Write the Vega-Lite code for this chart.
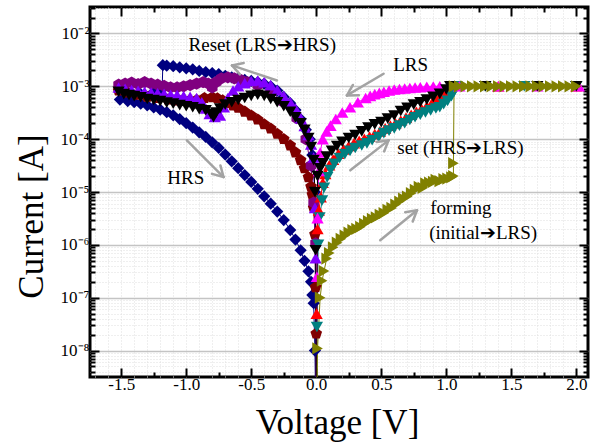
{
"$schema": "https://vega.github.io/schema/vega-lite/v6.json",
"width": 498, "height": 370,
"autosize": {"type": "none"},
"padding": {"left": 90, "top": 7, "right": 8, "bottom": 65},
"background": "white",
"config": {
  "view": {"stroke": "black", "strokeWidth": 3},
  "axis": {"labelFont": "Liberation Serif", "titleFont": "Liberation Serif", "labelColor": "black", "titleColor": "black", "titleFontWeight": "normal", "domain": false, "tickColor": "black", "tickWidth": 2, "labelOverlap": false, "labelBound": false, "labelFlush": false}
},
"datasets": {
"curves": [
{"s":"nv","v":0,"i":1e-10},{"s":"nv","v":-0.01,"i":1e-5},{"s":"nv","v":-0.03,"i":5e-5},{"s":"nv","v":-0.05,"i":1e-4},{"s":"nv","v":-0.08,"i":1.5e-4},{"s":"nv","v":-0.12,"i":2.4e-4},{"s":"nv","v":-0.16,"i":3.55e-4},{"s":"nv","v":-0.2,"i":4.8e-4},{"s":"nv","v":-0.25,"i":6.3e-4},{"s":"nv","v":-0.3,"i":8.3e-4},{"s":"nv","v":-0.35,"i":1e-3},{"s":"nv","v":-0.4,"i":1.12e-3},{"s":"nv","v":-0.45,"i":1.2e-3},{"s":"nv","v":-0.5,"i":1.26e-3},{"s":"nv","v":-0.55,"i":1.32e-3},{"s":"nv","v":-0.6,"i":1.41e-3},{"s":"nv","v":-0.65,"i":1.48e-3},{"s":"nv","v":-0.7,"i":1.58e-3},{"s":"nv","v":-0.75,"i":1.7e-3},{"s":"nv","v":-0.8,"i":1.78e-3},{"s":"nv","v":-0.85,"i":1.86e-3},{"s":"nv","v":-0.9,"i":1.95e-3},{"s":"nv","v":-0.95,"i":2.09e-3},{"s":"nv","v":-1.0,"i":2.19e-3},{"s":"nv","v":-1.05,"i":2.29e-3},{"s":"nv","v":-1.1,"i":2.4e-3},{"s":"nv","v":-1.15,"i":2.45e-3},{"s":"nv","v":-1.18,"i":2.51e-3},{"s":"nv","v":-1.185,"i":8.9e-4},{"s":"nv","v":-1.25,"i":7.9e-4},{"s":"nv","v":-1.35,"i":7.1e-4},{"s":"nv","v":-1.45,"i":6.3e-4},{"s":"nv","v":-1.51,"i":5.6e-4},
{"s":"nv","v":-1.45,"i":5.25e-4},{"s":"nv","v":-1.4,"i":5.0e-4},{"s":"nv","v":-1.35,"i":4.68e-4},{"s":"nv","v":-1.3,"i":4.37e-4},{"s":"nv","v":-1.25,"i":3.98e-4},{"s":"nv","v":-1.2,"i":3.63e-4},{"s":"nv","v":-1.15,"i":3.24e-4},{"s":"nv","v":-1.1,"i":2.82e-4},{"s":"nv","v":-1.05,"i":2.4e-4},{"s":"nv","v":-1.0,"i":2.0e-4},{"s":"nv","v":-0.95,"i":1.66e-4},{"s":"nv","v":-0.9,"i":1.35e-4},{"s":"nv","v":-0.85,"i":1.1e-4},{"s":"nv","v":-0.8,"i":8.7e-5},{"s":"nv","v":-0.75,"i":6.8e-5},{"s":"nv","v":-0.7,"i":5.1e-5},{"s":"nv","v":-0.65,"i":3.8e-5},{"s":"nv","v":-0.6,"i":2.82e-5},{"s":"nv","v":-0.55,"i":2.09e-5},{"s":"nv","v":-0.5,"i":1.55e-5},{"s":"nv","v":-0.45,"i":1.15e-5},{"s":"nv","v":-0.4,"i":8.3e-6},{"s":"nv","v":-0.35,"i":6.0e-6},{"s":"nv","v":-0.3,"i":4.27e-6},{"s":"nv","v":-0.25,"i":2.95e-6},{"s":"nv","v":-0.2,"i":1.91e-6},{"s":"nv","v":-0.16,"i":1.26e-6},{"s":"nv","v":-0.12,"i":7.9e-7},{"s":"nv","v":-0.09,"i":5.0e-7},{"s":"nv","v":-0.06,"i":3.16e-7},{"s":"nv","v":-0.04,"i":2.0e-7},{"s":"nv","v":-0.03,"i":1.12e-7},{"s":"nv","v":-0.02,"i":7.9e-8},{"s":"nv","v":-0.01,"i":1.0e-8},{"s":"nv","v":0.0,"i":1e-10},
{"s":"dr","v":-1.52,"i":8.3e-4},{"s":"dr","v":-1.45,"i":7.6e-4},{"s":"dr","v":-1.38,"i":6.9e-4},{"s":"dr","v":-1.3,"i":6.3e-4},{"s":"dr","v":-1.22,"i":6.0e-4},{"s":"dr","v":-1.14,"i":5.6e-4},{"s":"dr","v":-1.06,"i":5.4e-4},{"s":"dr","v":-0.98,"i":5.25e-4},{"s":"dr","v":-0.92,"i":5.5e-4},{"s":"dr","v":-0.86,"i":6.0e-4},{"s":"dr","v":-0.8,"i":6.2e-4},{"s":"dr","v":-0.76,"i":5.9e-4},{"s":"dr","v":-0.72,"i":5.4e-4},{"s":"dr","v":-0.68,"i":4.8e-4},{"s":"dr","v":-0.64,"i":4.3e-4},{"s":"dr","v":-0.6,"i":3.9e-4},{"s":"dr","v":-0.55,"i":3.3e-4},{"s":"dr","v":-0.5,"i":2.8e-4},{"s":"dr","v":-0.45,"i":2.34e-4},{"s":"dr","v":-0.4,"i":1.9e-4},{"s":"dr","v":-0.35,"i":1.58e-4},{"s":"dr","v":-0.3,"i":1.26e-4},{"s":"dr","v":-0.25,"i":1.0e-4},{"s":"dr","v":-0.2,"i":7.6e-5},{"s":"dr","v":-0.16,"i":5.6e-5},{"s":"dr","v":-0.12,"i":4.0e-5},{"s":"dr","v":-0.09,"i":2.8e-5},{"s":"dr","v":-0.06,"i":1.9e-5},{"s":"dr","v":-0.04,"i":1.26e-5},{"s":"dr","v":-0.03,"i":8.9e-6},{"s":"dr","v":-0.02,"i":5.0e-6},{"s":"dr","v":-0.01,"i":1.58e-6},{"s":"dr","v":-0.005,"i":1.58e-7},{"s":"dr","v":0.0,"i":2.1e-8},{"s":"dr","v":0.001,"i":1e-10},
{"s":"dm","v":-1.52,"i":1.07e-3},{"s":"dm","v":-1.47,"i":1.12e-3},{"s":"dm","v":-1.42,"i":1.17e-3},{"s":"dm","v":-1.37,"i":1.1e-3},{"s":"dm","v":-1.32,"i":1.2e-3},{"s":"dm","v":-1.27,"i":1.12e-3},{"s":"dm","v":-1.22,"i":1.07e-3},{"s":"dm","v":-1.17,"i":1.02e-3},{"s":"dm","v":-1.12,"i":9.5e-4},{"s":"dm","v":-1.07,"i":9.5e-4},{"s":"dm","v":-1.02,"i":1.0e-3},{"s":"dm","v":-0.97,"i":1.05e-3},{"s":"dm","v":-0.92,"i":1.12e-3},{"s":"dm","v":-0.87,"i":1.2e-3},{"s":"dm","v":-0.83,"i":1.12e-3},{"s":"dm","v":-0.8,"i":9.5e-4},{"s":"dm","v":-0.77,"i":1.2e-3},{"s":"dm","v":-0.73,"i":1.41e-3},{"s":"dm","v":-0.68,"i":1.48e-3},{"s":"dm","v":-0.63,"i":1.41e-3},{"s":"dm","v":-0.58,"i":1.32e-3},{"s":"dm","v":-0.53,"i":1.2e-3},{"s":"dm","v":-0.45,"i":1.05e-3},{"s":"dm","v":-0.35,"i":7.9e-4},{"s":"dm","v":-0.25,"i":5.0e-4},{"s":"dm","v":-0.15,"i":2.5e-4},{"s":"dm","v":-0.08,"i":1.0e-4},{"s":"dm","v":-0.04,"i":3.16e-5},{"s":"dm","v":-0.02,"i":6.3e-6},{"s":"dm","v":-0.005,"i":1.07e-6},{"s":"dm","v":0.0,"i":1e-10},
{"s":"vi","v":-1.52,"i":9.5e-4},{"s":"vi","v":-1.47,"i":9.0e-4},{"s":"vi","v":-1.42,"i":8.5e-4},{"s":"vi","v":-1.37,"i":8.2e-4},{"s":"vi","v":-1.32,"i":7.9e-4},{"s":"vi","v":-1.27,"i":7.6e-4},{"s":"vi","v":-1.22,"i":7.4e-4},{"s":"vi","v":-1.17,"i":7.2e-4},{"s":"vi","v":-1.12,"i":6.9e-4},{"s":"vi","v":-1.07,"i":6.8e-4},{"s":"vi","v":-1.02,"i":6.5e-4},{"s":"vi","v":-0.97,"i":6.3e-4},{"s":"vi","v":-0.92,"i":6.0e-4},{"s":"vi","v":-0.88,"i":5.0e-4},{"s":"vi","v":-0.85,"i":3.8e-4},{"s":"vi","v":-0.82,"i":3.0e-4},{"s":"vi","v":-0.78,"i":2.63e-4},{"s":"vi","v":-0.74,"i":2.82e-4},{"s":"vi","v":-0.71,"i":4.0e-4},{"s":"vi","v":-0.68,"i":6.0e-4},{"s":"vi","v":-0.64,"i":8.3e-4},{"s":"vi","v":-0.6,"i":1.0e-3},{"s":"vi","v":-0.55,"i":1.15e-3},{"s":"vi","v":-0.5,"i":1.26e-3},{"s":"vi","v":-0.45,"i":1.29e-3},{"s":"vi","v":-0.4,"i":1.2e-3},{"s":"vi","v":-0.35,"i":1.05e-3},{"s":"vi","v":-0.3,"i":8.5e-4},{"s":"vi","v":-0.25,"i":6.6e-4},{"s":"vi","v":-0.2,"i":5.0e-4},{"s":"vi","v":-0.16,"i":3.8e-4},{"s":"vi","v":-0.12,"i":2.5e-4},{"s":"vi","v":-0.09,"i":1.78e-4},{"s":"vi","v":-0.06,"i":1.2e-4},{"s":"vi","v":-0.04,"i":7.9e-5},{"s":"vi","v":-0.02,"i":4.5e-5},{"s":"vi","v":-0.01,"i":5.0e-6},{"s":"vi","v":-0.005,"i":5.6e-7},{"s":"vi","v":0.0,"i":1e-10},
{"s":"rd","v":0.0,"i":1e-10},{"s":"rd","v":0.003,"i":5e-8},{"s":"rd","v":0.01,"i":2.0e-6},{"s":"rd","v":0.02,"i":4.5e-6},{"s":"rd","v":0.035,"i":8e-6},{"s":"rd","v":0.05,"i":1.5e-5},{"s":"rd","v":0.07,"i":2.2e-5},{"s":"rd","v":0.1,"i":3.2e-5},{"s":"rd","v":0.13,"i":4.1e-5},{"s":"rd","v":0.17,"i":5.3e-5},{"s":"rd","v":0.21,"i":6.4e-5},{"s":"rd","v":0.25,"i":7.4e-5},{"s":"rd","v":0.29,"i":8.4e-5},{"s":"rd","v":0.33,"i":9.3e-5},{"s":"rd","v":0.37,"i":1.02e-4},{"s":"rd","v":0.41,"i":1.12e-4},{"s":"rd","v":0.45,"i":1.25e-4},{"s":"rd","v":0.49,"i":1.4e-4},{"s":"rd","v":0.53,"i":1.6e-4},{"s":"rd","v":0.57,"i":1.8e-4},{"s":"rd","v":0.61,"i":2.0e-4},{"s":"rd","v":0.65,"i":2.25e-4},{"s":"rd","v":0.69,"i":2.55e-4},{"s":"rd","v":0.73,"i":2.9e-4},{"s":"rd","v":0.77,"i":3.3e-4},{"s":"rd","v":0.81,"i":3.75e-4},{"s":"rd","v":0.85,"i":4.2e-4},{"s":"rd","v":0.89,"i":4.8e-4},{"s":"rd","v":0.93,"i":5.5e-4},{"s":"rd","v":0.96,"i":6.3e-4},{"s":"rd","v":0.99,"i":7.4e-4},{"s":"rd","v":1.02,"i":8.8e-4},{"s":"rd","v":1.04,"i":1e-3},{"s":"rd","v":1.4,"i":1e-3},{"s":"rd","v":2.0,"i":1e-3},
{"s":"tl","v":0.0,"i":1e-10},{"s":"tl","v":0.005,"i":2.8e-8},{"s":"tl","v":0.015,"i":1.0e-6},{"s":"tl","v":0.025,"i":3.3e-6},{"s":"tl","v":0.045,"i":6.9e-6},{"s":"tl","v":0.06,"i":1.2e-5},{"s":"tl","v":0.085,"i":1.9e-5},{"s":"tl","v":0.11,"i":2.6e-5},{"s":"tl","v":0.14,"i":3.4e-5},{"s":"tl","v":0.18,"i":4.4e-5},{"s":"tl","v":0.22,"i":5.2e-5},{"s":"tl","v":0.26,"i":6.0e-5},{"s":"tl","v":0.3,"i":6.8e-5},{"s":"tl","v":0.35,"i":7.6e-5},{"s":"tl","v":0.39,"i":8.3e-5},{"s":"tl","v":0.43,"i":9.5e-5},{"s":"tl","v":0.48,"i":1.1e-4},{"s":"tl","v":0.52,"i":1.3e-4},{"s":"tl","v":0.56,"i":1.45e-4},{"s":"tl","v":0.6,"i":1.6e-4},{"s":"tl","v":0.64,"i":1.8e-4},{"s":"tl","v":0.68,"i":2.0e-4},{"s":"tl","v":0.72,"i":2.3e-4},{"s":"tl","v":0.76,"i":2.6e-4},{"s":"tl","v":0.8,"i":2.9e-4},{"s":"tl","v":0.84,"i":3.2e-4},{"s":"tl","v":0.88,"i":3.5e-4},{"s":"tl","v":0.92,"i":3.8e-4},{"s":"tl","v":0.95,"i":4.0e-4},{"s":"tl","v":0.98,"i":4.6e-4},{"s":"tl","v":1.01,"i":5.3e-4},{"s":"tl","v":1.04,"i":6.5e-4},{"s":"tl","v":1.06,"i":8e-4},{"s":"tl","v":1.08,"i":1e-3},{"s":"tl","v":1.3,"i":1e-3},{"s":"tl","v":1.6,"i":1e-3},{"s":"tl","v":2.0,"i":1e-3},
{"s":"mg","v":0.0,"i":1e-10},{"s":"mg","v":0.005,"i":2.5e-7},{"s":"mg","v":0.01,"i":3.2e-6},{"s":"mg","v":0.02,"i":2.5e-5},{"s":"mg","v":0.03,"i":5.6e-5},{"s":"mg","v":0.05,"i":1.0e-4},{"s":"mg","v":0.08,"i":1.4e-4},{"s":"mg","v":0.11,"i":1.8e-4},{"s":"mg","v":0.15,"i":2.4e-4},{"s":"mg","v":0.2,"i":3.2e-4},{"s":"mg","v":0.26,"i":4.0e-4},{"s":"mg","v":0.32,"i":5.0e-4},{"s":"mg","v":0.38,"i":6.0e-4},{"s":"mg","v":0.415,"i":6.6e-4},{"s":"mg","v":0.45,"i":7.1e-4},{"s":"mg","v":0.485,"i":7.5e-4},{"s":"mg","v":0.52,"i":7.9e-4},{"s":"mg","v":0.56,"i":8.3e-4},{"s":"mg","v":0.6,"i":8.7e-4},{"s":"mg","v":0.64,"i":8.9e-4},{"s":"mg","v":0.68,"i":9.1e-4},{"s":"mg","v":0.72,"i":9.3e-4},{"s":"mg","v":0.76,"i":9.5e-4},{"s":"mg","v":0.8,"i":9.6e-4},{"s":"mg","v":0.85,"i":9.8e-4},{"s":"mg","v":0.9,"i":9.9e-4},{"s":"mg","v":0.95,"i":1e-3},{"s":"mg","v":1.1,"i":1e-3},{"s":"mg","v":1.4,"i":1e-3},{"s":"mg","v":1.7,"i":1e-3},{"s":"mg","v":2.02,"i":1e-3},
{"s":"bk","v":-1.52,"i":7.9e-4},{"s":"bk","v":-1.48,"i":7.1e-4},{"s":"bk","v":-1.44,"i":6.8e-4},{"s":"bk","v":-1.4,"i":6.5e-4},{"s":"bk","v":-1.35,"i":6.2e-4},{"s":"bk","v":-1.3,"i":5.75e-4},{"s":"bk","v":-1.25,"i":5.5e-4},{"s":"bk","v":-1.2,"i":5.25e-4},{"s":"bk","v":-1.15,"i":4.9e-4},{"s":"bk","v":-1.1,"i":4.7e-4},{"s":"bk","v":-1.05,"i":4.4e-4},{"s":"bk","v":-1.0,"i":4.2e-4},{"s":"bk","v":-0.95,"i":4.0e-4},{"s":"bk","v":-0.9,"i":3.7e-4},{"s":"bk","v":-0.85,"i":3.5e-4},{"s":"bk","v":-0.81,"i":3.0e-4},{"s":"bk","v":-0.79,"i":2.6e-4},{"s":"bk","v":-0.77,"i":3.2e-4},{"s":"bk","v":-0.74,"i":3.8e-4},{"s":"bk","v":-0.7,"i":4.5e-4},{"s":"bk","v":-0.65,"i":5.0e-4},{"s":"bk","v":-0.6,"i":5.5e-4},{"s":"bk","v":-0.55,"i":6.0e-4},{"s":"bk","v":-0.5,"i":6.6e-4},{"s":"bk","v":-0.45,"i":6.9e-4},{"s":"bk","v":-0.4,"i":6.6e-4},{"s":"bk","v":-0.35,"i":5.75e-4},{"s":"bk","v":-0.3,"i":5.0e-4},{"s":"bk","v":-0.25,"i":4.2e-4},{"s":"bk","v":-0.2,"i":3.3e-4},{"s":"bk","v":-0.16,"i":2.6e-4},{"s":"bk","v":-0.12,"i":2.0e-4},{"s":"bk","v":-0.09,"i":1.5e-4},{"s":"bk","v":-0.06,"i":1.05e-4},{"s":"bk","v":-0.04,"i":7.1e-5},{"s":"bk","v":-0.02,"i":4.0e-5},{"s":"bk","v":-0.01,"i":1.0e-5},{"s":"bk","v":-0.005,"i":7.9e-7},{"s":"bk","v":0.0,"i":1e-10},{"s":"bk","v":0.01,"i":2.0e-5},{"s":"bk","v":0.03,"i":2.8e-5},{"s":"bk","v":0.05,"i":3.5e-5},{"s":"bk","v":0.08,"i":4.7e-5},{"s":"bk","v":0.12,"i":6.0e-5},{"s":"bk","v":0.16,"i":7.4e-5},{"s":"bk","v":0.2,"i":8.9e-5},{"s":"bk","v":0.25,"i":1.05e-4},{"s":"bk","v":0.3,"i":1.2e-4},{"s":"bk","v":0.35,"i":1.4e-4},{"s":"bk","v":0.4,"i":1.66e-4},{"s":"bk","v":0.45,"i":1.9e-4},{"s":"bk","v":0.5,"i":2.1e-4},{"s":"bk","v":0.55,"i":2.45e-4},{"s":"bk","v":0.6,"i":2.8e-4},{"s":"bk","v":0.65,"i":3.4e-4},{"s":"bk","v":0.7,"i":3.9e-4},{"s":"bk","v":0.75,"i":4.5e-4},{"s":"bk","v":0.8,"i":5.0e-4},{"s":"bk","v":0.85,"i":5.6e-4},{"s":"bk","v":0.9,"i":6.3e-4},{"s":"bk","v":0.95,"i":7.2e-4},{"s":"bk","v":1.0,"i":8.7e-4},{"s":"bk","v":1.03,"i":1e-3},{"s":"bk","v":1.3,"i":1e-3},{"s":"bk","v":1.7,"i":1e-3},{"s":"bk","v":2.0,"i":1e-3},
{"s":"ol","v":0.0,"i":1e-10},{"s":"ol","v":0.01,"i":1.1e-8},{"s":"ol","v":0.03,"i":1.0e-7},{"s":"ol","v":0.045,"i":2.1e-7},{"s":"ol","v":0.06,"i":3.2e-7},{"s":"ol","v":0.08,"i":5.5e-7},{"s":"ol","v":0.1,"i":7.0e-7},{"s":"ol","v":0.13,"i":9.0e-7},{"s":"ol","v":0.16,"i":1.1e-6},{"s":"ol","v":0.19,"i":1.3e-6},{"s":"ol","v":0.22,"i":1.5e-6},{"s":"ol","v":0.25,"i":1.7e-6},{"s":"ol","v":0.28,"i":1.9e-6},{"s":"ol","v":0.31,"i":2.0e-6},{"s":"ol","v":0.34,"i":2.2e-6},{"s":"ol","v":0.37,"i":2.5e-6},{"s":"ol","v":0.4,"i":2.8e-6},{"s":"ol","v":0.43,"i":3.1e-6},{"s":"ol","v":0.46,"i":3.3e-6},{"s":"ol","v":0.49,"i":3.7e-6},{"s":"ol","v":0.52,"i":4.0e-6},{"s":"ol","v":0.55,"i":4.6e-6},{"s":"ol","v":0.58,"i":5.0e-6},{"s":"ol","v":0.61,"i":5.8e-6},{"s":"ol","v":0.64,"i":6.6e-6},{"s":"ol","v":0.67,"i":7.5e-6},{"s":"ol","v":0.7,"i":8.2e-6},{"s":"ol","v":0.73,"i":9.5e-6},{"s":"ol","v":0.76,"i":1.1e-5},{"s":"ol","v":0.79,"i":1.25e-5},{"s":"ol","v":0.82,"i":1.2e-5},{"s":"ol","v":0.84,"i":1.45e-5},{"s":"ol","v":0.87,"i":1.5e-5},{"s":"ol","v":0.9,"i":1.55e-5},{"s":"ol","v":0.92,"i":1.7e-5},{"s":"ol","v":0.95,"i":1.6e-5},{"s":"ol","v":0.98,"i":1.75e-5},{"s":"ol","v":1.01,"i":1.8e-5},{"s":"ol","v":1.04,"i":1.9e-5},{"s":"ol","v":1.055,"i":2.0e-5},{"s":"ol","v":1.055,"i":3.5e-5},{"s":"ol","v":1.06,"i":1e-3},{"s":"ol","v":1.1,"i":1e-3},{"s":"ol","v":1.15,"i":1e-3},{"s":"ol","v":1.2,"i":1e-3},{"s":"ol","v":1.25,"i":1e-3},{"s":"ol","v":1.3,"i":1e-3},{"s":"ol","v":1.35,"i":1e-3},{"s":"ol","v":1.4,"i":1e-3},{"s":"ol","v":1.45,"i":1e-3},{"s":"ol","v":1.5,"i":1e-3},{"s":"ol","v":1.55,"i":1e-3},{"s":"ol","v":1.6,"i":1e-3},{"s":"ol","v":1.65,"i":1e-3},{"s":"ol","v":1.7,"i":1e-3},{"s":"ol","v":1.75,"i":1e-3},{"s":"ol","v":1.8,"i":1e-3},{"s":"ol","v":1.85,"i":1e-3},{"s":"ol","v":1.9,"i":1e-3},{"s":"ol","v":1.95,"i":1e-3},{"s":"ol","v":2.0,"i":1e-3}
],
"arrows": [
{"v":-0.302,"i":1.29e-3,"v2":-0.648,"i2":2.48e-3},{"v":-0.648,"i":2.48e-3,"v2":-0.587,"i2":1.68e-3},{"v":-0.648,"i":2.48e-3,"v2":-0.558,"i2":2.75e-3},
{"v":0.518,"i":1.73e-3,"v2":0.236,"i2":6.73e-4},{"v":0.236,"i":6.73e-4,"v2":0.328,"i2":6.76e-4},{"v":0.236,"i":6.73e-4,"v2":0.282,"i2":1.06e-3},
{"v":-0.995,"i":9.48e-5,"v2":-0.713,"i2":1.92e-5},{"v":-0.713,"i":1.92e-5,"v2":-0.737,"i2":3.18e-5},{"v":-0.713,"i":1.92e-5,"v2":-0.802,"i2":2.2e-5},
{"v":0.262,"i":2.57e-5,"v2":0.556,"i2":9.48e-5},{"v":0.556,"i":9.48e-5,"v2":0.465,"i2":8.81e-5},{"v":0.556,"i":9.48e-5,"v2":0.522,"i2":5.85e-5},
{"v":0.492,"i":1.22e-6,"v2":0.775,"i2":4.51e-6},{"v":0.775,"i":4.51e-6,"v2":0.684,"i2":4.15e-6},{"v":0.775,"i":4.51e-6,"v2":0.742,"i2":2.77e-6}
],
"notes": [
{"t":"Reset (LRS\u2794HRS)","v":-0.982,"i":5.93e-3},
{"t":"LRS","v":0.592,"i":2.48e-3},
{"t":"HRS","v":-1.146,"i":1.82e-5},
{"t":"set (HRS\u2794LRS)","v":0.623,"i":6.7e-5},
{"t":"forming","v":0.877,"i":4.92e-6},
{"t":"(initial\u2794LRS)","v":0.869,"i":1.66e-6}
]
},
"layer": [
{
 "data": {"name": "curves"},
 "mark": {"type": "line", "strokeWidth": 1, "clip": true},
 "encoding": {
  "x": {"field": "v", "type": "quantitative", "scale": {"domain": [-1.74, 2.09], "nice": false, "zero": false},
   "axis": {"orient": "bottom", "values": [-1.5,-1.25,-1,-0.75,-0.5,-0.25,0,0.25,0.5,0.75,1,1.25,1.5,1.75,2],
    "labelExpr": "abs(datum.value*2 - round(datum.value*2)) < 0.01 ? replace(format(datum.value, '.1f'), '\u2212', '-') : ''",
    "tickSize": {"condition": {"test": "abs(datum.value*2 - round(datum.value*2)) < 0.01", "value": -9}, "value": -5},
    "labelFontSize": 17, "labelPadding": 8, "grid": false,
    "title": "Voltage [V]", "titleFontSize": 35, "titleX": 247, "titleY": 56, "titleBaseline": "alphabetic", "titleAlign": "center"}},
  "y": {"field": "i", "type": "quantitative", "scale": {"type": "log", "domain": [3.1623e-9, 0.031623], "nice": false},
   "axis": {"orient": "left",
    "values": [4e-9,5e-9,6e-9,7e-9,8e-9,9e-9,1e-8,2e-8,3e-8,4e-8,5e-8,6e-8,7e-8,8e-8,9e-8,1e-7,2e-7,3e-7,4e-7,5e-7,6e-7,7e-7,8e-7,9e-7,1e-6,2e-6,3e-6,4e-6,5e-6,6e-6,7e-6,8e-6,9e-6,1e-5,2e-5,3e-5,4e-5,5e-5,6e-5,7e-5,8e-5,9e-5,1e-4,2e-4,3e-4,4e-4,5e-4,6e-4,7e-4,8e-4,9e-4,1e-3,2e-3,3e-3,4e-3,5e-3,6e-3,7e-3,8e-3,9e-3,1e-2,2e-2,3e-2],
    "labelExpr": "abs(log(datum.value)/LN10 - round(log(datum.value)/LN10)) < 0.01 ? '10' + ['\u207b\u2078','\u207b\u2077','\u207b\u2076','\u207b\u2075','\u207b\u2074','\u207b\u00b3','\u207b\u00b2'][round(log(datum.value)/LN10) + 8] : ''",
    "tickSize": {"condition": {"test": "abs(log(datum.value)/LN10 - round(log(datum.value)/LN10)) < 0.01", "value": -9}, "value": -5},
    "labelFontSize": 17, "labelPadding": 10,
    "grid": true,
    "gridColor": {"condition": {"test": "abs(log(datum.value)/LN10 - round(log(datum.value)/LN10)) < 0.01", "value": "#c4c4c4"}, "value": "#dedede"},
    "gridDash": {"condition": {"test": "abs(log(datum.value)/LN10 - round(log(datum.value)/LN10)) < 0.01", "value": []}, "value": [1, 2]},
    "gridWidth": {"condition": {"test": "abs(log(datum.value)/LN10 - round(log(datum.value)/LN10)) < 0.01", "value": 1.5}, "value": 1},
    "title": "Current [A]", "titleFontSize": 35, "titleX": -48, "titleY": 209, "titleAngle": 270, "titleBaseline": "alphabetic", "titleAlign": "center"}},
  "color": {"field": "s", "type": "nominal", "legend": null,
   "scale": {"domain": ["nv","dr","dm","vi","rd","tl","mg","bk","ol"], "range": ["#000080","#800000","#800080","#8000ff","#ff0000","#008080","#ff00ff","#000000","#808000"]}},
  "order": {"value": null}
 }
},
{
 "data": {"name": "curves"},
 "mark": {"type": "point", "filled": true, "opacity": 1, "size": 150, "clip": true},
 "encoding": {
  "x": {"field": "v", "type": "quantitative", "scale": {"domain": [-1.74, 2.09], "nice": false, "zero": false},
   "axis": {"orient": "top", "values": [-1.5,-1.25,-1,-0.75,-0.5,-0.25,0,0.25,0.5,0.75,1,1.25,1.5,1.75,2], "labels": false, "grid": false, "title": null,
    "tickSize": {"condition": {"test": "abs(datum.value*2 - round(datum.value*2)) < 0.01", "value": -9}, "value": -5}}},
  "y": {"field": "i", "type": "quantitative", "scale": {"type": "log", "domain": [3.1623e-9, 0.031623], "nice": false},
   "axis": {"orient": "right", "labels": false, "grid": false, "title": null,
    "values": [4e-9,5e-9,6e-9,7e-9,8e-9,9e-9,1e-8,2e-8,3e-8,4e-8,5e-8,6e-8,7e-8,8e-8,9e-8,1e-7,2e-7,3e-7,4e-7,5e-7,6e-7,7e-7,8e-7,9e-7,1e-6,2e-6,3e-6,4e-6,5e-6,6e-6,7e-6,8e-6,9e-6,1e-5,2e-5,3e-5,4e-5,5e-5,6e-5,7e-5,8e-5,9e-5,1e-4,2e-4,3e-4,4e-4,5e-4,6e-4,7e-4,8e-4,9e-4,1e-3,2e-3,3e-3,4e-3,5e-3,6e-3,7e-3,8e-3,9e-3,1e-2,2e-2,3e-2],
    "tickSize": {"condition": {"test": "abs(log(datum.value)/LN10 - round(log(datum.value)/LN10)) < 0.01", "value": -9}, "value": -5}}},
  "color": {"field": "s", "type": "nominal", "legend": null},
  "shape": {"field": "s", "type": "nominal", "legend": null,
   "scale": {"domain": ["nv","dr","dm","vi","rd","tl","mg","bk","ol"],
    "range": ["diamond","M0,-1L0.951,-0.309L0.588,0.809L-0.588,0.809L-0.951,-0.309Z","M0,-1L0.866,-0.5L0.866,0.5L0,1L-0.866,0.5L-0.866,-0.5Z","triangle-up","triangle-up","triangle-down","triangle-up","triangle-down","triangle-right"]}}
 }
},
{
 "data": {"name": "arrows"},
 "mark": {"type": "rule", "color": "#a3a3a3", "strokeWidth": 2.5, "strokeCap": "round"},
 "encoding": {
  "x": {"field": "v", "type": "quantitative", "scale": {"domain": [-1.74, 2.09], "nice": false, "zero": false},
   "axis": {"orient": "bottom", "values": [-1.7,-1.6,-1.5,-1.4,-1.3,-1.2,-1.1,-1,-0.9,-0.8,-0.7,-0.6,-0.5,-0.4,-0.3,-0.2,-0.1,0,0.1,0.2,0.3,0.4,0.5,0.6,0.7,0.8,0.9,1,1.1,1.2,1.3,1.4,1.5,1.6,1.7,1.8,1.9,2.0],
    "labels": false, "ticks": false, "title": null, "grid": true, "gridColor": "#dedede", "gridDash": [1, 2], "gridWidth": 1}},
  "y": {"field": "i", "type": "quantitative", "scale": {"type": "log", "domain": [3.1623e-9, 0.031623], "nice": false}, "axis": null},
  "x2": {"field": "v2"},
  "y2": {"field": "i2"}
 }
},
{
 "data": {"name": "notes"},
 "mark": {"type": "text", "font": "Liberation Serif", "fontSize": 19, "align": "left", "baseline": "middle", "color": "black"},
 "encoding": {
  "x": {"field": "v", "type": "quantitative", "scale": {"domain": [-1.74, 2.09], "nice": false, "zero": false}, "axis": null},
  "y": {"field": "i", "type": "quantitative", "scale": {"type": "log", "domain": [3.1623e-9, 0.031623], "nice": false}, "axis": null},
  "text": {"field": "t"}
 }
}
],
"resolve": {"axis": {"x": "independent", "y": "independent"}}
}
